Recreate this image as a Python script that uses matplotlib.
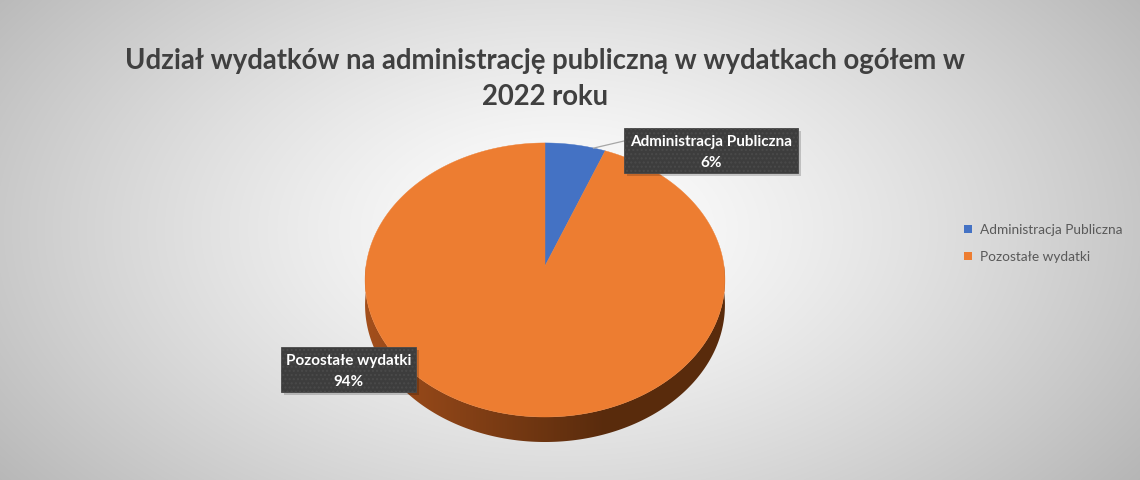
import numpy as np
import matplotlib.pyplot as plt
from matplotlib.patches import Polygon, Rectangle

# data
labels = ['Administracja Publiczna', 'Pozostałe wydatki']
shares = [6, 94]
colors = ['#4472c4', '#ed7d31']
title = 'Udział wydatków na administrację publiczną w wydatkach ogółem w\n2022 roku'

W, H = 1140, 481
fig = plt.figure(figsize=(W / 100, H / 100), dpi=100)
ax = fig.add_axes([0, 0, 1, 1])
ax.set_xlim(0, W)
ax.set_ylim(H, 0)
ax.axis('off')

# radial gradient background
yy, xx = np.mgrid[0:H, 0:W]
r = np.sqrt(((xx - 560) / 700.0) ** 2 + ((yy - 230) / 420.0) ** 2)
g = np.clip(1.0 - 0.28 * r ** 1.3, 0, 1)
ax.imshow(np.dstack([g, g, g]), extent=(0, W, H, 0), zorder=0)

# pie geometry (pixels), simple perspective
cx, cy = 545, 267
kx, ky, b = 179.0, 135.6, 0.102
depth = 25


def proj(t, dz=0.0):
    x, y = np.cos(t), np.sin(t)
    den = 1 + b * y
    return cx + kx * x / den, cy - ky * y / den + dz


# side band (front half) as one polygon filled with a horizontal gradient
ts = np.linspace(np.pi, 2 * np.pi, 300)
sx, sy = proj(ts)
side = Polygon(list(zip(sx, sy)) + list(zip(sx[::-1], sy[::-1] + depth)),
               closed=True, facecolor='none', edgecolor='none', zorder=2)
ax.add_patch(side)
gx = np.linspace(0, 1, 256)
c0 = np.array([0.64, 0.31, 0.11])
c1 = np.array([0.35, 0.17, 0.05])
ramp = c0 + (c1 - c0) * np.clip(gx * 1.5, 0, 1)[:, None]
im = ax.imshow(ramp[None, :, :], extent=(sx.min(), sx.max(), sy.max() + depth, sy.min()),
               aspect='auto', zorder=2)
im.set_clip_path(side)
ax.set_xlim(0, W)
ax.set_ylim(H, 0)

# top faces
start = np.pi / 2
tot = float(sum(shares))
mids = []
for val, col in zip(shares, colors):
    end = start - 2 * np.pi * val / tot
    tt = np.linspace(start, end, 300)
    px, py = proj(tt)
    pts = [(cx, cy)] + list(zip(px, py))
    ax.add_patch(Polygon(pts, closed=True, facecolor=col, edgecolor=col, lw=0.3, zorder=3))
    mids.append((start + end) / 2)
    start = end

# data labels
boxes = [(624, 129, 174, 45), (281, 348, 135, 45)]
for lab, val, (bx, by, bw, bh) in zip(labels, shares, boxes):
    ax.add_patch(Rectangle((bx + 3, by + 3), bw, bh, facecolor='#000000', alpha=0.18,
                           edgecolor='none', zorder=4))
    ax.add_patch(Rectangle((bx, by), bw, bh, facecolor='#3d3d3d', edgecolor='#4a4a4a',
                           lw=0.6, hatch='....', zorder=5))
    ax.text(bx + bw / 2, by + bh / 2 + 1, f'{lab}\n{val}%', ha='center', va='center',
            color='white', fontsize=11, fontweight='bold', family='Lato',
            linespacing=1.6, zorder=6)

# leader line for small slice
lx, ly = proj(mids[0] - 0.05)
ax.plot([lx + 10, 624], [ly + 2, 142], color='#a6a6a6', lw=0.9, zorder=4)

# legend
for i, (lab, col) in enumerate(zip(labels, colors)):
    y = 230 + 27 * i
    ax.add_patch(Rectangle((964, y - 4), 8, 8, facecolor=col, edgecolor='none', zorder=4))
    ax.text(980, y, lab, ha='left', va='center', color='#595959', fontsize=9.8,
            family='Lato', zorder=4)

ax.text(545, 79, title, ha='center', va='center', color='#404040', fontsize=19.8,
        fontweight='bold', family='Lato', linespacing=1.5, zorder=4)

fig.savefig('out.png', dpi=100)
